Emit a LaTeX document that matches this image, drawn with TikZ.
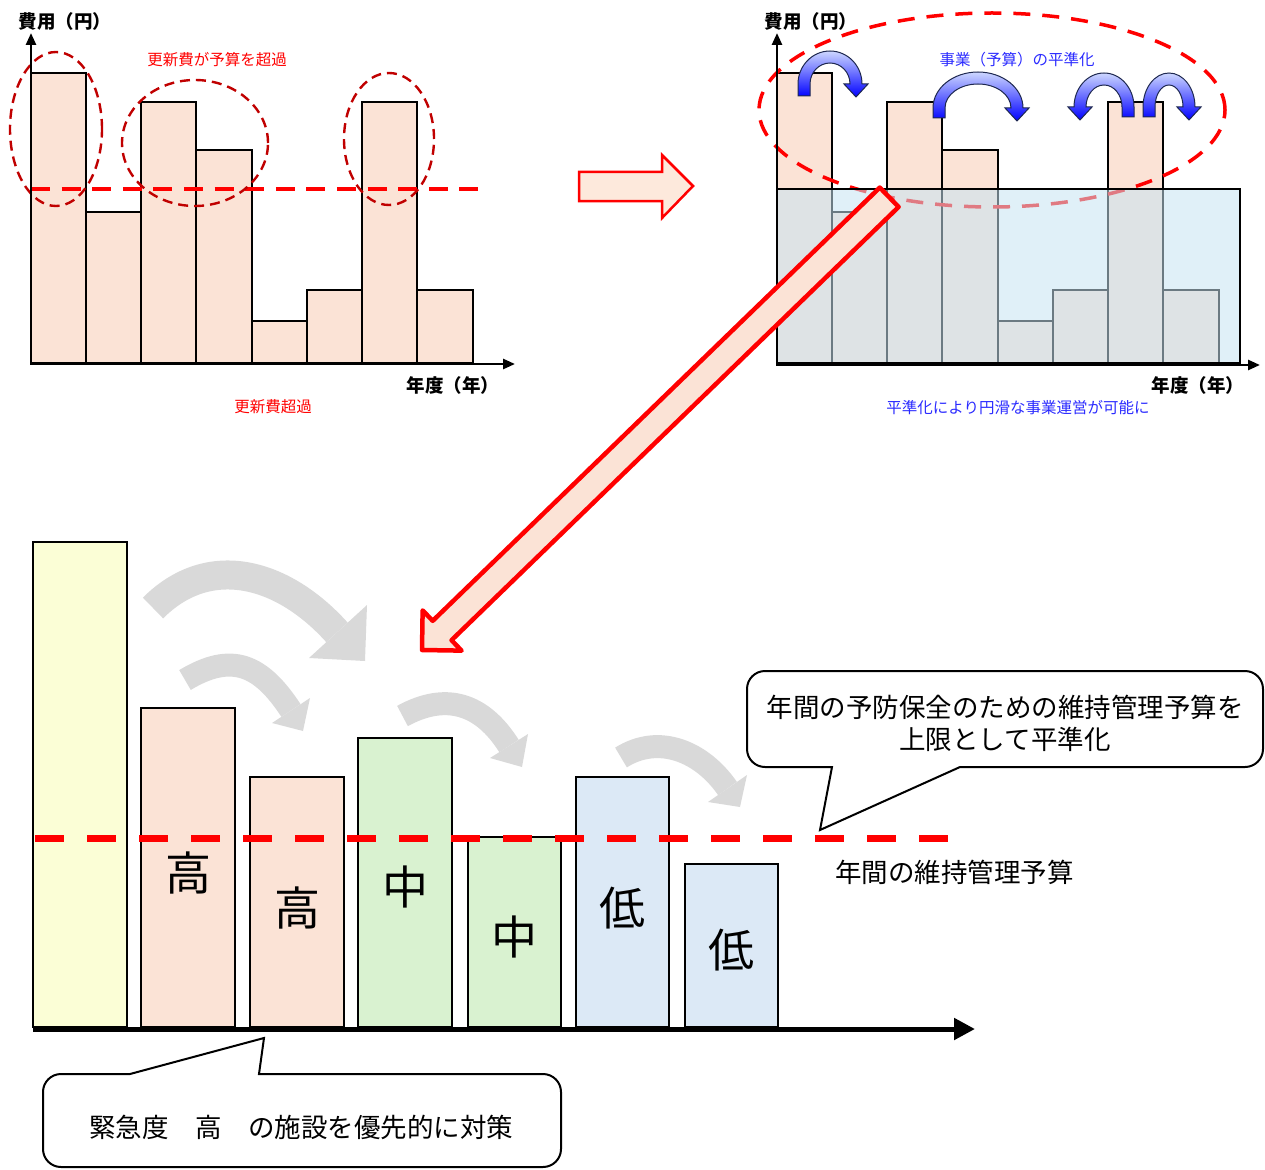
\documentclass[tikz,border=0pt]{standalone}
\usepackage{fontspec}
\setmainfont{Noto Sans CJK JP}
\usetikzlibrary{arrows.meta}
\definecolor{peach}{HTML}{FBE3D6}
\definecolor{peachA}{HTML}{FDE9DC}
\definecolor{ylw}{HTML}{FBFED6}
\definecolor{grn}{HTML}{D9F2D0}
\definecolor{lblue}{HTML}{DCE9F6}
\definecolor{skyb}{RGB}{198,227,242}
\definecolor{darkred}{HTML}{C00000}
\definecolor{arrgray}{HTML}{D9D9D9}
\definecolor{txtblue}{HTML}{2B2BFF}
\definecolor{navy}{RGB}{30,40,80}
\definecolor{lightbl}{RGB}{205,215,255}
\newcommand\bluearr[8]{%
  \begin{scope}[shift={(#1,-#2)}, xscale=#8]
    \path[barrow] ({-#3},{-(#7-#2)}) -- ({-#3},0)
      arc[start angle=180,end angle=0,x radius=#3,y radius=#4]
      -- ({#3+6},0) -- ({#3-6},-13) -- ({#3-18},0) -- ({#5},0)
      arc[start angle=0,end angle=180,x radius=#5,y radius=#6]
      -- ({-#5},{-(#7-#2)}) -- cycle;
  \end{scope}}
\begin{document}
\begin{tikzpicture}[x=1pt,y=1pt,
  tbar/.style={draw=black, line width=1.3, fill=peach},
  bbar/.style={draw=black, line width=2.5},
  axisA/.style={line width=2.6, -{Triangle[length=12pt,width=10pt]}},
  axisB/.style={line width=5, -{Triangle[length=21pt,width=21pt]}},
  lbl/.style={inner sep=0, font=\fontsize{18.5}{21}\selectfont\bfseries},
  redlbl/.style={inner sep=0, text=red, font=\fontsize{15.5}{18}\selectfont},
  bluelbl/.style={inner sep=0, text=txtblue, font=\fontsize{15.5}{18}\selectfont},
  biglbl/.style={inner sep=0, font=\fontsize{46}{50}\selectfont},
  midlbl/.style={inner sep=0, font=\fontsize{26.5}{30}\selectfont},
  smallell/.style={draw=darkred, line width=2.4, dash pattern=on 10pt off 6pt},
  barrow/.style={top color=lightbl, bottom color=blue, draw=navy, line width=1},
  grayshaft/.style={draw=arrgray, line cap=butt},
  callout/.style={draw=black, line width=2, fill=white}
]
\useasboundingbox (0,0) rectangle (1265,-1169);

% ---------------- top-left chart ----------------
\draw[tbar] (31,-363) rectangle (86,-73);
\draw[tbar] (86,-363) rectangle (141,-212);
\draw[tbar] (141,-363) rectangle (196,-102);
\draw[tbar] (196,-363) rectangle (252,-150);
\draw[tbar] (252,-363) rectangle (307,-321);
\draw[tbar] (307,-363) rectangle (362,-290);
\draw[tbar] (362,-363) rectangle (417,-102);
\draw[tbar] (417,-363) rectangle (473,-290);
\draw[red, line width=3.8, dash pattern=on 19pt off 11.6pt] (31,-189) -- (487,-189);
\draw[smallell] (56,-129) ellipse[x radius=46, y radius=77];
\draw[smallell] (195,-143) ellipse[x radius=73, y radius=63];
\draw[smallell] (389,-139) ellipse[x radius=45, y radius=66];
\draw[axisA] (31,-364) -- (31,-33);
\draw[axisA] (30,-364) -- (515,-364);
\node[lbl] (tly) at (65,-21) {費用（円）};
\node[redlbl] (tlover) at (217,-60) {更新費が予算を超過};
\node[lbl] (tlx) at (453,-385) {年度（年）};
\node[redlbl] (tlsub) at (273,-407) {更新費超過};

% ---------------- top middle arrow ----------------
\draw[red, line width=2.5, fill=peachA, line join=miter]
  (579,-172) -- (662,-172) -- (662,-155) -- (693,-186) -- (662,-218) -- (662,-201) -- (579,-201) -- cycle;

% ---------------- top-right chart ----------------
\draw[tbar] (777,-363) rectangle (832,-73);
\draw[tbar] (832,-363) rectangle (887,-212);
\draw[tbar] (887,-363) rectangle (942,-102);
\draw[tbar] (942,-363) rectangle (998,-150);
\draw[tbar] (998,-363) rectangle (1053,-321);
\draw[tbar] (1053,-363) rectangle (1108,-290);
\draw[tbar] (1108,-363) rectangle (1163,-102);
\draw[tbar] (1163,-363) rectangle (1219,-290);
\draw[red, line width=3.5, dash pattern=on 17pt off 12pt] (992,-110) ellipse[x radius=233, y radius=97];
\fill[skyb, fill opacity=0.54] (777,-363) rectangle (1240,-189);
\draw[black, line width=1.3] (777,-363) rectangle (1240,-189);
\draw[axisA] (777,-365) -- (777,-33);
\draw[axisA] (776,-365) -- (1260,-365);
\bluearr{830}{84}{32}{33}{20}{21}{96}{1}
\bluearr{978}{108}{45}{36}{33}{24}{118}{1}
\bluearr{1104}{107}{30}{34}{18}{22}{117}{-1}
\bluearr{1169}{107}{26}{34}{14}{22}{117}{1}
\node[lbl] (try) at (811,-21) {費用（円）};
\node[bluelbl] (trtop) at (1017,-60) {事業（予算）の平準化};
\node[lbl] (trx) at (1198,-385) {年度（年）};
\node[bluelbl] (trsub) at (1018,-408) {平準化により円滑な事業運営が可能に};

% ---------------- big diagonal arrow ----------------
\begin{scope}[shift={(422,-650)}, rotate=44.1]
  \draw[red, line width=4.5, fill=peach, line join=round]
    (0,0) -- (28,28) -- (28,13.5) -- (650.6,13.5) -- (650.6,-13.5) -- (28,-13.5) -- (28,-28) -- cycle;
\end{scope}

% ---------------- bottom chart ----------------
% gray arrows
\draw[grayshaft, line width=29] (153,-608) .. controls (209.6,-551.4) and (283.4,-572.8) .. (337,-632.4);
\fill[arrgray] (367,-605) -- (365,-661) -- (309,-658) -- cycle;
\draw[grayshaft, line width=23] (185,-680) .. controls (232,-651.7) and (260.8,-664.6) .. (291,-710.5);
\fill[arrgray] (310,-698) -- (303,-731) -- (272,-723) -- cycle;
\draw[grayshaft, line width=23] (402.5,-716) .. controls (446.3,-691.9) and (482.3,-703.75) .. (509,-746);
\fill[arrgray] (528,-734) -- (522,-767) -- (490,-758) -- cycle;
\draw[grayshaft, line width=23] (621,-757.5) .. controls (659,-733.5) and (701.9,-751.5) .. (727.5,-788.5);
\fill[arrgray] (747,-775) -- (740,-807) -- (708,-802) -- cycle;

% bars
\draw[bbar, fill=ylw] (33,-1027) rectangle (127,-542);
\draw[bbar, fill=peach] (141,-1027) rectangle (235,-708);
\draw[bbar, fill=peach] (250,-1027) rectangle (344,-777);
\draw[bbar, fill=grn] (358,-1027) rectangle (452,-738);
\draw[bbar, fill=grn] (468,-1027) rectangle (561,-837);
\draw[bbar, fill=lblue] (576,-1027) rectangle (669,-777);
\draw[bbar, fill=lblue] (685,-1027) rectangle (778,-864);
\draw[axisB] (33,-1029) -- (975,-1029);
\draw[red, line width=7, dash pattern=on 29pt off 23pt] (35,-838) -- (953,-838);

\node[biglbl] (b1) at (188,-873) {高};
\node[biglbl] (b2) at (297,-908) {高};
\node[biglbl] (b3) at (405,-887) {中};
\node[biglbl] (b4) at (514,-937) {中};
\node[biglbl] (b5) at (622,-908) {低};
\node[biglbl] (b6) at (731,-950) {低};

\node[midlbl, anchor=west] (budget) at (835,-872) {年間の維持管理予算};

% callout 1
\draw[callout] (832,-767) -- (820,-830) -- (960,-767) -- (1245,-767)
  arc[start angle=-90,end angle=0,radius=18] -- (1263,-689)
  arc[start angle=0,end angle=90,radius=18] -- (765,-671)
  arc[start angle=90,end angle=180,radius=18] -- (747,-749)
  arc[start angle=180,end angle=270,radius=18] -- cycle;
\node[midlbl] (c1a) at (1005,-707) {年間の予防保全のための維持管理予算を};
\node[midlbl] (c1b) at (1005,-739) {上限として平準化};

% callout 2
\draw[callout] (130,-1074) -- (264,-1038) -- (259,-1074) -- (543,-1074)
  arc[start angle=90,end angle=0,radius=18] -- (561,-1149)
  arc[start angle=0,end angle=-90,radius=18] -- (61,-1167)
  arc[start angle=-90,end angle=-180,radius=18] -- (43,-1092)
  arc[start angle=180,end angle=90,radius=18] -- cycle;
\node[midlbl] (c2) at (301,-1127) {緊急度　高　の施設を優先的に対策};
\end{tikzpicture}
\end{document}
